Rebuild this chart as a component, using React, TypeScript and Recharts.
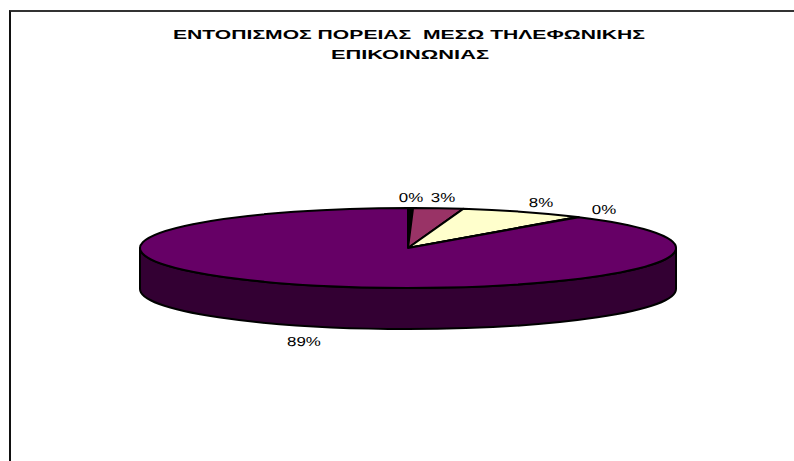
import { PieChart, Pie, Cell } from 'recharts';

const categories = ['A', 'B', 'C', 'D', 'E'];
const shares = [0.3, 3, 7.6, 0.1, 89];
const shareLabels = ['0%', '3%', '8%', '0%', '89%'];
const sliceColors = ['#000000', '#993366', '#ffffcc', '#ccffff', '#660066'];
const titleLines = ['ΕΝΤΟΠΙΣΜΟΣ ΠΟΡΕΙΑΣ  ΜΕΣΩ ΤΗΛΕΦΩΝΙΚΗΣ', 'ΕΠΙΚΟΙΝΩΝΙΑΣ'];

const chartData = categories.map((name, i) => ({ name, value: shares[i] }));

const RX = 268;
const RY = 40;
const DEPTH = 41;

const rad = (a: number) => (a * Math.PI) / 180;

// flattens a library sector onto an ellipse and adds the wall below it
const TiltedSlice = (props: any) => {
  const { cx, cy, startAngle, endAngle, fill } = props;
  const px = (a: number) => cx + RX * Math.cos(rad(a));
  const py = (a: number, d = 0) => cy - RY * Math.sin(rad(a)) + d;
  const large = Math.abs(startAngle - endAngle) > 180 ? 1 : 0;
  const top = `M${cx},${cy}L${px(startAngle)},${py(startAngle)}A${RX},${RY} 0 ${large} 1 ${px(endAngle)},${py(endAngle)}Z`;
  // front half of the disc is -180..0 in chart degrees
  const wallFrom = Math.min(startAngle, 0);
  const wallTo = Math.max(endAngle, -180);
  const hasWall = wallFrom > wallTo;
  const wall = `M${px(wallFrom)},${py(wallFrom)}L${px(wallFrom)},${py(wallFrom, DEPTH)}A${RX},${RY} 0 0 1 ${px(wallTo)},${py(wallTo, DEPTH)}L${px(wallTo)},${py(wallTo)}A${RX},${RY} 0 0 0 ${px(wallFrom)},${py(wallFrom)}Z`;
  return (
    <g>
      {hasWall && <path d={wall} fill="#330033" stroke="#000000" strokeWidth={2} />}
      <path d={top} fill={fill} stroke="#000000" strokeWidth={2} strokeLinejoin="round" />
    </g>
  );
};

const renderLabel = (props: any) => {
  const { cx, cy, midAngle, index } = props;
  const sin = Math.sin(rad(midAngle));
  const x = Math.round(cx + RX * 1.15 * Math.cos(rad(midAngle)));
  const y = Math.round(cy - (RY + 11) * sin + (sin < 0 ? DEPTH + 4 : 0));
  const text = shareLabels[index];
  return (
    <text x={x} y={y} textAnchor="middle" dominantBaseline="central" fontSize={13} fill="#000000" fontFamily="Liberation Sans" textRendering="geometricPrecision" textLength={(text.length - 1) * 9.4 + 15} lengthAdjust="spacingAndGlyphs">
      {text}
    </text>
  );
};

const App = () => {
  return (
    <div style={{ position: 'fixed', left: 9, top: 10, right: 0, bottom: 0, borderLeft: '2px solid #111', borderTop: '2px solid #333', background: '#fff', overflow: 'hidden' }}>
      <PieChart width={783} height={449} margin={{ top: 0, right: 0, bottom: 0, left: 0 }}>
        <text x={398} y={27} textAnchor="middle" fontSize={13} fontWeight="bold" fontFamily="Liberation Sans" fill="#000000" textLength={472} lengthAdjust="spacingAndGlyphs" style={{ whiteSpace: 'pre' }}>
          {titleLines[0]}
        </text>
        <text x={399} y={47} textAnchor="middle" fontSize={13} fontWeight="bold" fontFamily="Liberation Sans" fill="#000000" textLength={158} lengthAdjust="spacingAndGlyphs">
          {titleLines[1]}
        </text>
        <Pie
          data={chartData}
          dataKey="value"
          cx={397}
          cy={236}
          startAngle={90}
          endAngle={-270}
          outerRadius={RX}
          paddingAngle={0}
          shape={TiltedSlice}
          label={renderLabel}
          labelLine={false}
          isAnimationActive={false}
        >
          {chartData.map((d, i) => (
            <Cell key={d.name} fill={sliceColors[i]} />
          ))}
        </Pie>
      </PieChart>
    </div>
  );
};

export default App;
